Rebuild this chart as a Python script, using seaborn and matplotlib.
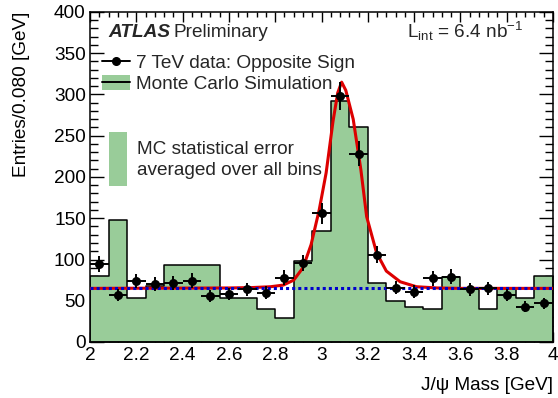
import numpy as np
import pandas as pd
import seaborn as sns
import matplotlib
matplotlib.use("Agg")
import matplotlib.pyplot as plt
from matplotlib.lines import Line2D
from matplotlib.patches import Patch
from matplotlib.legend_handler import HandlerTuple
from matplotlib.ticker import MultipleLocator, FormatStrFormatter

# ---------------- data ----------------
bin_edges = [2.00, 2.08, 2.16, 2.24, 2.32, 2.40, 2.48, 2.56, 2.64, 2.72, 2.80,
             2.88, 2.96, 3.04, 3.12, 3.20, 3.28, 3.36, 3.44, 3.52, 3.60, 3.68,
             3.76, 3.84, 3.92, 4.00]
bin_centers = [2.04, 2.12, 2.20, 2.28, 2.36, 2.44, 2.52, 2.60, 2.68, 2.76, 2.84,
               2.92, 3.00, 3.08, 3.16, 3.24, 3.32, 3.40, 3.48, 3.56, 3.64, 3.72,
               3.80, 3.88, 3.96]
mc_counts = [80, 148, 53, 68, 93, 93, 93, 53, 53, 40, 29, 98, 134, 292, 260,
             71, 50, 42, 40, 79, 66, 40, 66, 53, 80]
data_counts = [95, 57, 74, 70, 71, 74.5, 56, 58, 64, 60, 78, 96, 156, 298, 228,
               106, 66, 61, 77, 79, 64, 65, 57, 43, 47]
data_err = [9.7, 7.5, 8.6, 8.4, 8.4, 8.6, 7.5, 7.6, 8.0, 7.7, 8.8, 9.8, 12.5,
            17.3, 15.1, 10.3, 8.1, 7.8, 8.8, 8.9, 8.0, 8.1, 7.5, 6.6, 6.9]
data_xerr = [0.04] * 25

fit_x = [2.00, 2.60, 2.70, 2.78, 2.835, 2.88, 2.92, 2.955, 2.99, 3.02, 3.05,
         3.07, 3.087, 3.105, 3.137, 3.17, 3.195, 3.238, 3.28, 3.34, 3.41,
         3.50, 3.60, 4.00]
fit_y = [65, 65.5, 66, 67, 69, 75, 90, 118, 160, 205, 268, 302, 315, 305, 270,
         209, 152, 108, 86, 73, 67, 65.5, 65, 65]

bkg_x = [2.0, 4.0]
bkg_y = [65, 65]

mc_err_x = [2.08, 2.16]
mc_err_lo = [189, 189]
mc_err_hi = [255, 255]

# ---------------- style ----------------
sns.set_theme(style="ticks")
plt.rcParams["font.family"] = ["Liberation Sans", "DejaVu Sans"]
plt.rcParams["mathtext.fontset"] = "custom"
plt.rcParams["mathtext.rm"] = "Liberation Sans"
plt.rcParams["mathtext.it"] = "Liberation Sans:italic"
plt.rcParams["axes.linewidth"] = 1.1

green = "#99cc99"
FS = 13.7

fig = plt.figure(figsize=(5.58, 3.98), dpi=100)
ax = fig.add_axes([90 / 558, (398 - 342) / 398, 463 / 558, 330 / 398])

df_mc = pd.DataFrame({"x": bin_centers, "w": mc_counts})
sns.histplot(data=df_mc, x="x", weights="w", bins=bin_edges, element="step",
             fill=True, color=green, edgecolor="black", linewidth=1.1,
             alpha=1.0, ax=ax, zorder=1)

ax.fill_between(mc_err_x, mc_err_lo, mc_err_hi, color=green, lw=0, zorder=1)

df_fit = pd.DataFrame({"x": fit_x, "y": fit_y})
sns.lineplot(data=df_fit, x="x", y="y", color="#dd0000", linewidth=2.2,
             ax=ax, zorder=3)
df_bkg = pd.DataFrame({"x": bkg_x, "y": bkg_y})
sns.lineplot(data=df_bkg, x="x", y="y", color="#0000cc", linewidth=2.2,
             linestyle=(0, (1, 1)), ax=ax, zorder=4)

ax.errorbar(bin_centers, data_counts, yerr=data_err, xerr=data_xerr,
            fmt="none", ecolor="black", elinewidth=1.4, capsize=0, zorder=5)
df_d = pd.DataFrame({"x": bin_centers, "y": data_counts})
sns.scatterplot(data=df_d, x="x", y="y", color="black", s=42, marker="o",
                edgecolor="black", linewidth=0, ax=ax, zorder=6)

ax.set_xlim(2, 4)
ax.set_ylim(0, 400)
ax.xaxis.set_major_locator(MultipleLocator(0.2))
ax.xaxis.set_minor_locator(MultipleLocator(0.04))
ax.yaxis.set_major_locator(MultipleLocator(50))
ax.yaxis.set_minor_locator(MultipleLocator(10))
ax.xaxis.set_major_formatter(FormatStrFormatter("%g"))
ax.tick_params(axis="both", which="both", direction="in", top=True,
               right=True, labelsize=FS, colors="black", width=1.0)
ax.tick_params(axis="x", which="major", length=7.5, pad=3.5)
ax.tick_params(axis="x", which="minor", length=3.8)
ax.tick_params(axis="y", which="major", length=10, pad=3.0)
ax.tick_params(axis="y", which="minor", length=5.5)
for s in ax.spines.values():
    s.set_color("black")

ax.set_xlabel("J/\u03c8 Mass [GeV]", fontsize=FS, color="black")
ax.xaxis.set_label_coords(1.0, -0.131)
ax.xaxis.label.set_ha("right")
ax.xaxis.label.set_va("center")
ax.set_ylabel("Entries/0.080 [GeV]", fontsize=FS, color="black")
ax.yaxis.set_label_coords(-0.147, 1.0)
ax.yaxis.label.set_ha("right")
ax.yaxis.label.set_va("center")

# texts
t_atlas = ax.text(0.039, 0.939, "ATLAS", transform=ax.transAxes, fontsize=FS,
                  fontweight="bold", fontstyle="italic", va="center",
                  ha="left")
ax.annotate("Preliminary", xy=(1.0, 0.5), xycoords=t_atlas,
            xytext=(3, 0), textcoords="offset pixels", fontsize=FS,
            va="center", ha="left")
ax.text(0.684, 0.94, r"L$_{\mathrm{int}}$ = 6.4 nb$^{-1}$",
        transform=ax.transAxes, fontsize=FS, va="center", ha="left")
ax.text(0.101, 0.582, "MC statistical error", transform=ax.transAxes,
        fontsize=FS, va="center", ha="left")
ax.text(0.101, 0.521, "averaged over all bins", transform=ax.transAxes,
        fontsize=FS, va="center", ha="left")

h_data = Line2D([], [], color="black", marker="o", markersize=5.5, lw=1.4)
h_mc = (Patch(facecolor=green, edgecolor="none"),
        Line2D([], [], color="black", lw=1.4))
leg = ax.legend([h_data, h_mc],
                ["7 TeV data: Opposite Sign", "Monte Carlo Simulation"],
                handler_map={tuple: HandlerTuple(ndivide=1, pad=0)},
                loc="upper left", bbox_to_anchor=(0.025, 0.872),
                frameon=False, fontsize=FS, borderpad=0, borderaxespad=0,
                handlelength=1.5, handleheight=0.8, handletextpad=0.3,
                labelspacing=0.15)

fig.savefig("out.png", dpi=100)
